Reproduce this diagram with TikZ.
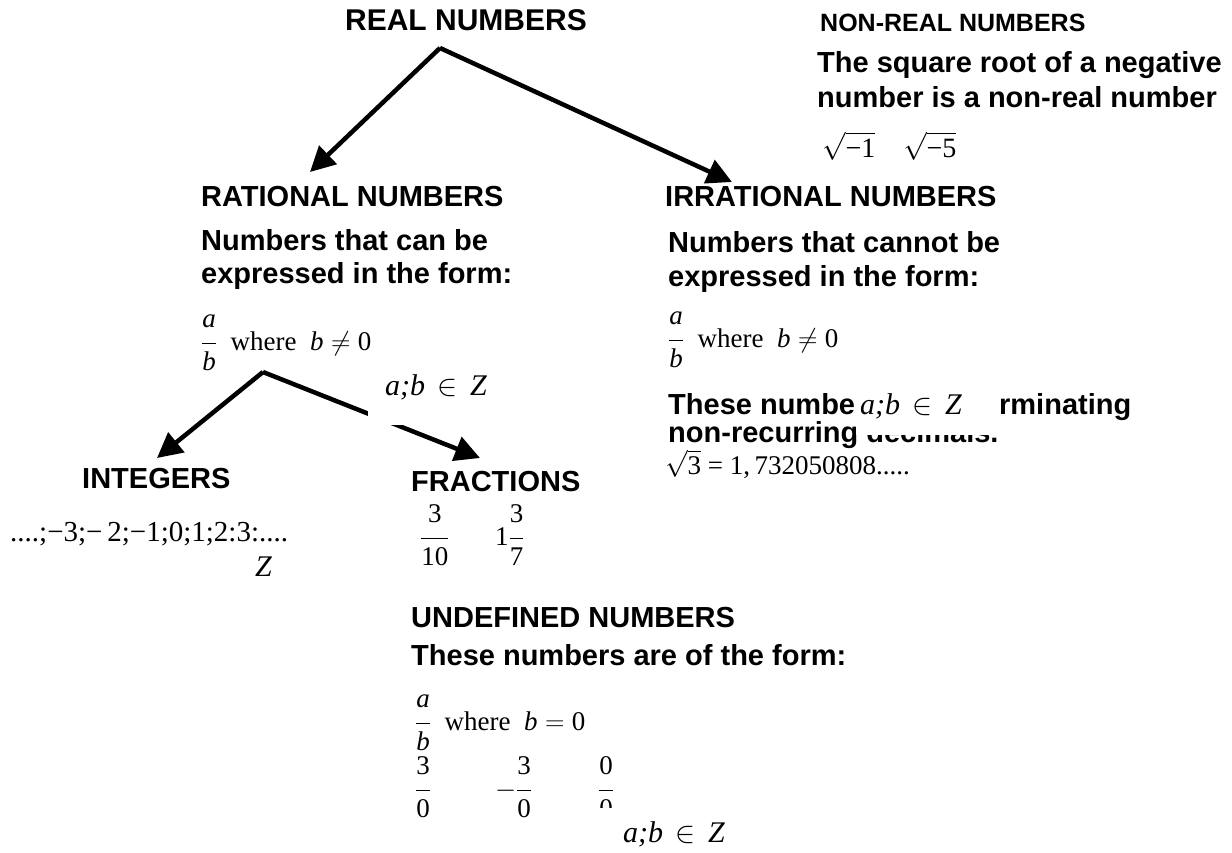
\RequirePackage{fix-cm}
\documentclass[tikz,border=0pt]{standalone}
\usepackage{fontspec}
\usepackage{amsmath}
\usepackage{graphicx}
\setmainfont{Liberation Sans}
\newfontfamily\tms{Liberation Serif}
\usetikzlibrary{arrows.meta}
\tikzset{
 hd/.style={font=\fontsize{29}{34}\selectfont\bfseries, anchor=base west, inner sep=0pt},
 sm/.style={font=\tms\fontsize{27}{31}\selectfont, anchor=base west, inner sep=0pt},
 setz/.style={font=\tms\fontsize{30}{34}\selectfont\itshape, anchor=base west, inner sep=0pt},
 arr/.style={line width=4.5pt, -{Triangle[length=25pt,width=25pt]}},
 cover/.style={fill=white, draw=none, anchor=north west, inner sep=0pt},
}
\newcommand{\fr}[2]{$\displaystyle\frac{\raisebox{4pt}{#1}}{\raisebox{-2pt}{#2}}$}
\newcommand{\abz}{a;b \,$\in$\, Z}
\begin{document}
\begin{tikzpicture}[x=1pt,y=1pt]
\useasboundingbox (0,0) rectangle (1232,-852);
% connectors
\coordinate (A1) at (440,-48);
\coordinate (T1) at (310,-172);
\coordinate (T2) at (732,-182);
\coordinate (A2) at (263,-372);
\coordinate (T3) at (157,-458);
\coordinate (T4) at (480,-458);
\draw[arr] (A1) -- (T1);
\draw[arr] (A1) -- (T2);
\draw[arr] (A2) -- (T3);
\draw[arr] (A2) -- (T4);
% headings and texts
\node[hd, anchor=base, font=\fontsize{30}{34}\selectfont\bfseries] (real) at (466,-30) {REAL NUMBERS};
\node[hd, font=\fontsize{25}{30}\selectfont\bfseries] (nonreal) at (820,-31) {NON-REAL NUMBERS};
\node[hd] (sq1) at (817,-72) {The square root of a negative};
\node[hd] (sq2) at (817,-107) {number is a non-real number};
\node[sm, font=\tms\fontsize{28}{32}\selectfont] (sqex) at (822,-157) {$\sqrt{\mbox{−1}}$\quad$\sqrt{\mbox{−5}}$};

\node[hd] (rat) at (201,-206) {RATIONAL NUMBERS};
\node[hd] (rat1) at (201,-250) {Numbers that can be};
\node[hd] (rat2) at (201,-283) {expressed in the form:};
\node[sm] (ratf) at (201,-350) {\fr{\itshape a}{\itshape b}\ \ where\ \ $\mbox{\itshape b}\neq\mbox{0}$};

\node[hd] (irr) at (665,-206) {IRRATIONAL NUMBERS};
\node[hd] (irr1) at (668,-252) {Numbers that cannot be};
\node[hd] (irr2) at (668,-286) {expressed in the form:};
\node[sm] (irrf) at (668,-347) {\fr{\itshape a}{\itshape b}\ \ where\ \ $\mbox{\itshape b}\neq\mbox{0}$};
\node[hd] (irr3) at (668,-414) {These numbe\scalebox{0.82}[1]{rs are non-te}rminating};
\node[hd] (irr4) at (668,-442) {non-recurring decimals.};
\node[sm] (sqrt3) at (665,-474) {$\sqrt{\mbox{3}}$ = 1,\,732050808.....};

\node[hd] (int) at (82,-488) {INTEGERS};
\node[sm, font=\tms\fontsize{29}{34}\selectfont] (intl) at (10,-541) {....;−3;−\,2;−1;0;1;2:3:....};
\node[setz] (intz) at (255,-576) {Z};

\node[hd] (frac) at (411,-491) {FRACTIONS};
\node[sm] (fr1) at (420,-545) {\fr{3}{10}};
\node[sm] (fr2) at (495,-545) {1\fr{3}{7}};

\node[hd] (und) at (411,-627) {UNDEFINED NUMBERS};
\node[hd] (und1) at (411,-665) {These numbers are of the form:};
\node[sm] (undf) at (415,-730) {\fr{\itshape a}{\itshape b}\ \ where\ \ $\mbox{\itshape b}=\mbox{0}$};
\node[sm] (u1) at (415,-797) {\fr{3}{0}};
\node[sm] (u2) at (495,-797) {$-$\fr{3}{0}};
\node[sm] (u3) at (598,-797) {\fr{0}{0}};

% white label boxes covering parts
\node[cover, minimum width=140pt, minimum height=65pt] (c1) at (368,-360) {};
\node[setz] (z1) at (385,-395) {\abz};
\node[cover, minimum width=143pt, minimum height=49pt] (c2) at (856,-386) {};
\node[setz] (z2) at (860,-414) {\abz};
\node[cover, minimum width=200pt, minimum height=44pt] (c3) at (595,-808) {};
\node[setz] (z3) at (623,-842) {\abz};
\end{tikzpicture}
\end{document}
